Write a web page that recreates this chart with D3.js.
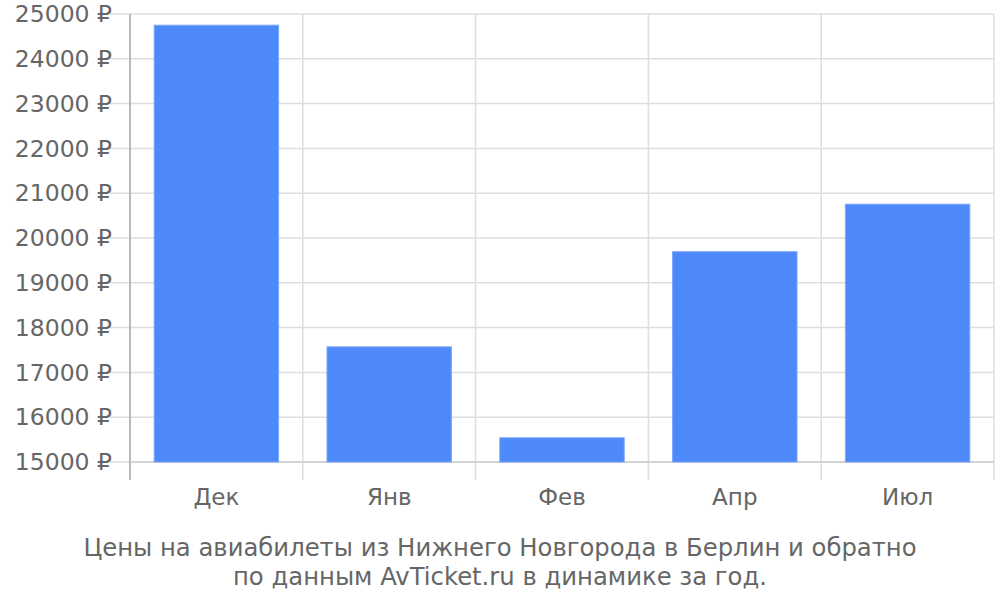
<!DOCTYPE html>
<html><head><meta charset="utf-8">
<script src="https://cdn.jsdelivr.net/npm/d3@7"></script>
<style>body{margin:0;background:#fff}svg{display:block;font-family:"DejaVu Sans",sans-serif}</style>
</head><body><svg id="c" width="1000" height="600"></svg>
<script>
const categories = ["Дек","Янв","Фев","Апр","Июл"];
const prices = [24750, 17570, 15540, 19695, 20755];
const yTicks = [15000,16000,17000,18000,19000,20000,21000,22000,23000,24000,25000];
const titleLines = ["Цены на авиабилеты из Нижнего Новгорода в Берлин и обратно","по данным AvTicket.ru в динамике за год."];

const svg = d3.select("#c");
const L=130,R=994,T=14,B=462;
const x = d3.scaleBand().domain(categories).range([L,R]).paddingInner(0.28).paddingOuter(0.14);
const y = d3.scaleLinear().domain([15000,25000]).range([B,T]);

svg.append("g").selectAll("line").data(yTicks).join("line")
 .attr("x1",L-20).attr("x2",R).attr("y1",d=>y(d)).attr("y2",d=>y(d))
 .attr("stroke","#dedede").attr("stroke-width",1.5);
const bounds = categories.map((c,i)=>L+i*(R-L)/categories.length).concat([R]);
svg.append("g").selectAll("line").data(bounds).join("line")
 .attr("x1",d=>d).attr("x2",d=>d).attr("y1",T).attr("y2",B+18)
 .attr("stroke","#dedede").attr("stroke-width",1.5);
svg.append("line").attr("x1",L).attr("x2",L).attr("y1",T).attr("y2",B+18).attr("stroke","#aaa").attr("stroke-width",1.5);
svg.append("line").attr("x1",L).attr("x2",R).attr("y1",B).attr("y2",B).attr("stroke","#ccc").attr("stroke-width",1.5);

svg.append("g").selectAll("rect").data(prices).join("rect")
 .attr("x",(d,i)=>x(categories[i])).attr("width",x.bandwidth())
 .attr("y",d=>y(d)).attr("height",d=>B-y(d))
 .attr("fill","#4d89f9").attr("stroke","#7aa6fb").attr("stroke-width",1);

svg.append("g").selectAll("text").data(yTicks).join("text")
 .attr("x",112).attr("y",d=>y(d)).attr("dy","0.35em").attr("text-anchor","end")
 .attr("fill","#666").attr("font-size",23.5).text(d=>d+" ₽");
svg.append("g").selectAll("text").data(categories).join("text")
 .attr("x",d=>x(d)+x.bandwidth()/2).attr("y",505).attr("text-anchor","middle")
 .attr("fill","#666").attr("font-size",23).text(d=>d);
svg.append("g").selectAll("text").data(titleLines).join("text")
 .attr("x",500).attr("y",(d,i)=>556+i*29).attr("text-anchor","middle")
 .attr("fill","#666").attr("font-size",24.3).text(d=>d);
</script></body></html>
